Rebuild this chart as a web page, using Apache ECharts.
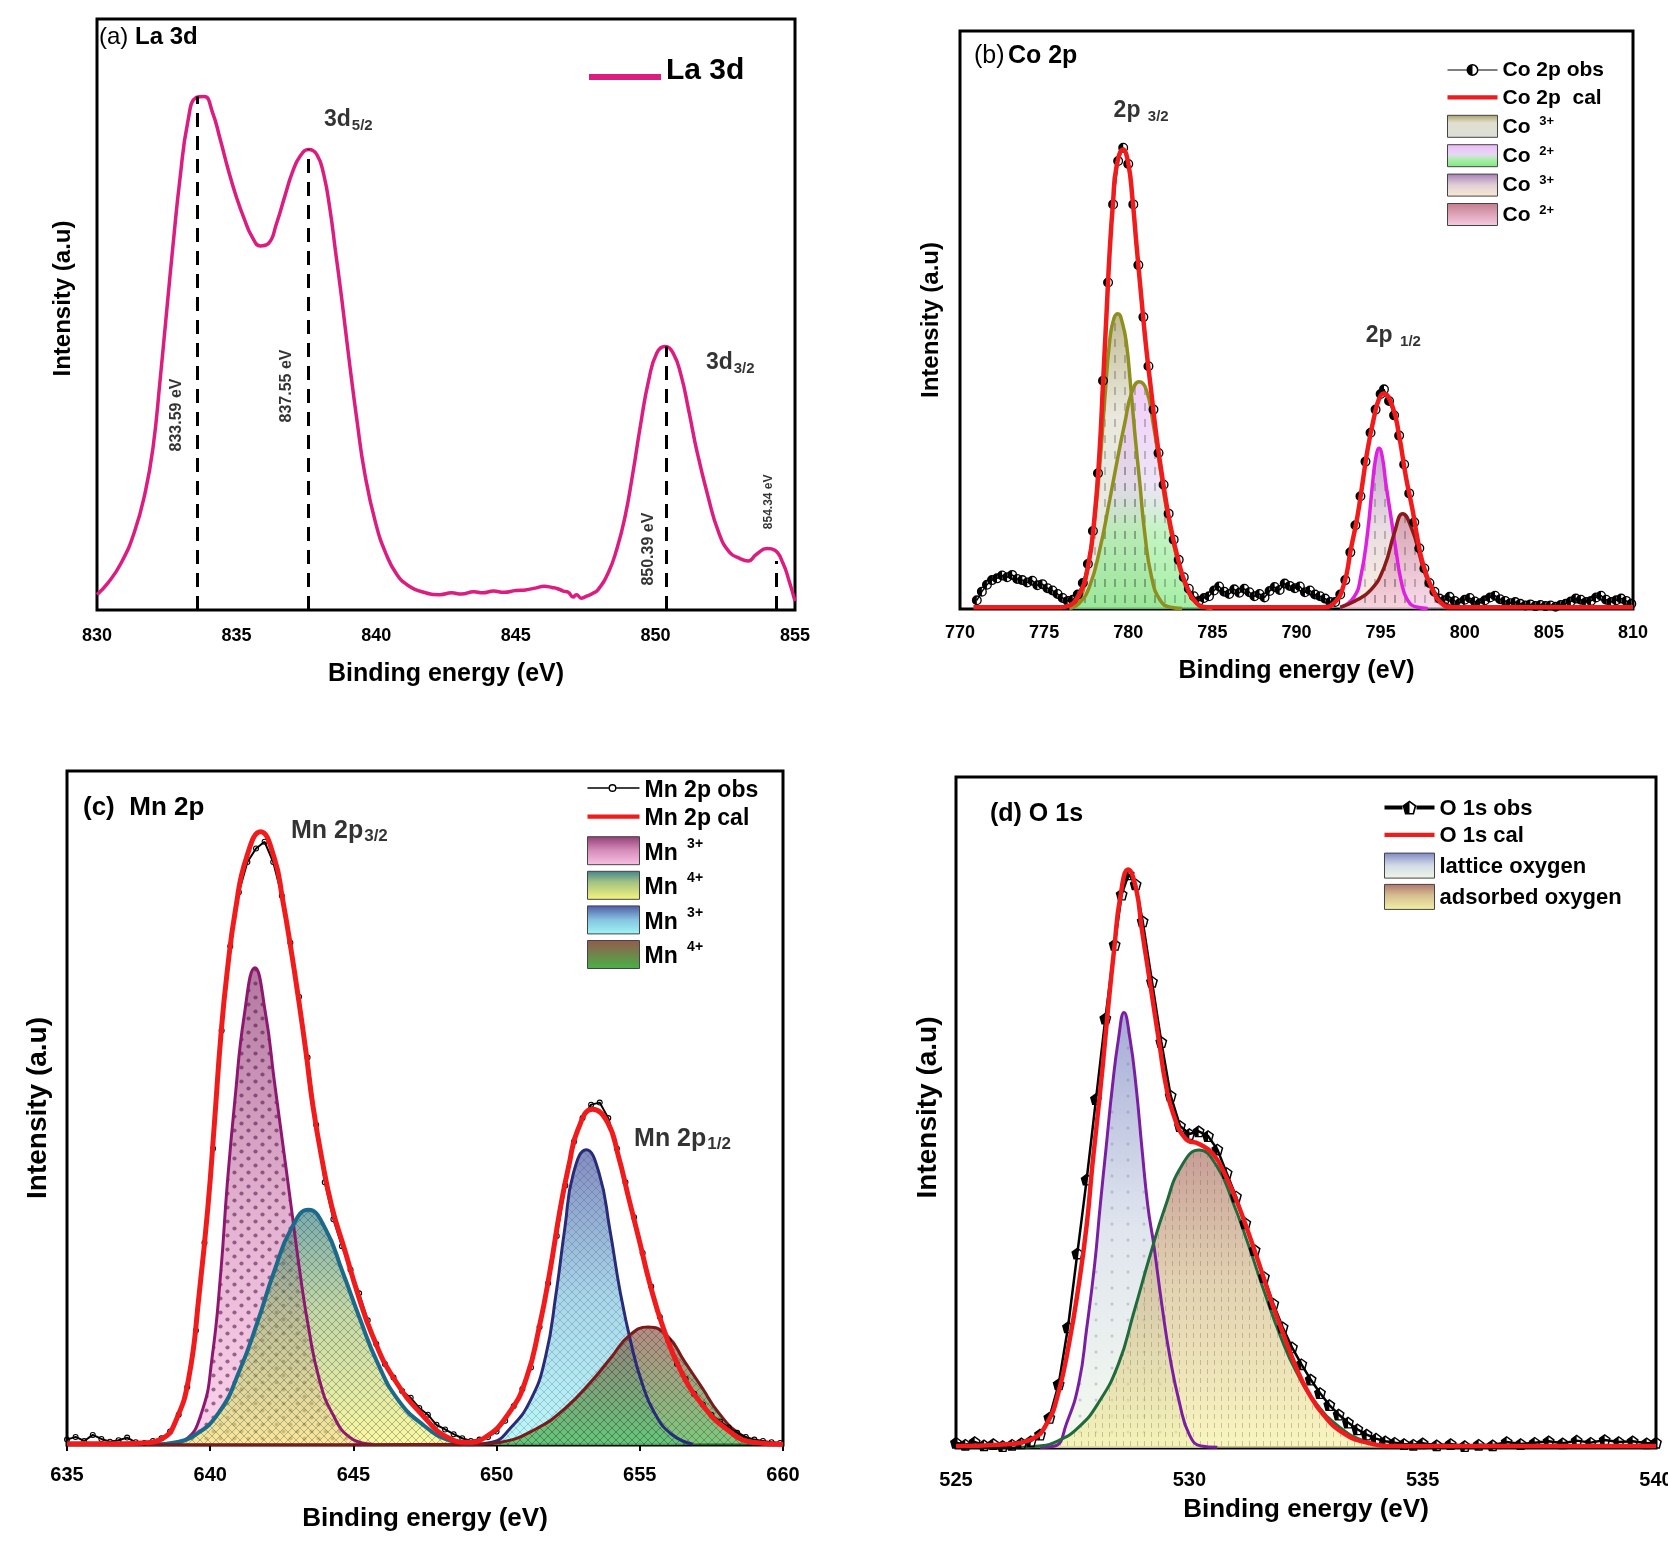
<!DOCTYPE html>
<html>
<head>
<meta charset="utf-8">
<title>XPS spectra - La 3d, Co 2p, Mn 2p, O 1s</title>
<script src="https://cdn.jsdelivr.net/npm/echarts@6.0.0/dist/echarts.min.js"></script>
<style>
  html, body { margin: 0; padding: 0; background: #fff; }
  #main { width: 1668px; height: 1550px; }
</style>
</head>
<body>
<div id="main"></div>
<script>
// ---------- values (intensity in arbitrary units, 0..100 of each frame) ----------

// (a) La 3d
var laSpectrum = [[830.0,2.6],[830.38,4.5],[830.86,7.9],[831.34,13.2],[831.73,20.0],[832.01,27.6],[832.26,38.9],[832.49,50.3],[832.72,61.6],[832.97,72.9],[833.26,82.8],[833.55,86.7],[833.84,86.9],[834.13,84.3],[834.41,79.7],[834.7,74.5],[834.99,69.9],[835.28,66.1],[835.56,63.1],[835.85,61.6],[836.14,62.0],[836.43,65.4],[836.72,69.9],[837.0,74.1],[837.29,76.9],[837.58,77.9],[837.87,77.1],[838.12,73.7],[838.35,67.6],[838.54,60.8],[838.77,52.5],[839.02,42.7],[839.31,32.1],[839.59,23.1],[839.98,14.7],[840.36,9.4],[840.74,6.0],[841.13,4.2],[841.7,3.0],[842.28,2.6],[842.7,2.9],[843.05,2.7],[843.5,3.1],[843.81,2.9],[844.2,3.2],[844.58,3.0],[845.0,3.3],[845.35,3.4],[845.7,3.7],[846.02,4.0],[846.3,3.8],[846.5,3.6],[846.7,3.2],[846.88,3.0],[847.05,2.2],[847.17,2.6],[847.35,2.0],[847.56,2.4],[847.75,2.8],[847.94,3.4],[848.32,6.4],[848.61,10.2],[848.9,15.5],[849.19,23.1],[849.47,31.4],[849.76,38.9],[850.05,43.5],[850.34,44.6],[850.63,43.5],[850.92,39.7],[851.2,33.6],[851.49,26.8],[851.88,19.3],[852.26,13.2],[852.65,9.8],[853.03,8.7],[853.32,8.3],[853.61,9.4],[854.0,10.4],[854.28,10.1],[854.57,7.9],[854.79,4.9],[855.0,1.5]];
var laPeaks = [[833.59,86.9],[837.55,77.9],[850.39,44.6],[854.34,8.3]];
var laPeakText = [[832.86,33.0,'{r|833.59 eV}'],[836.79,37.9,'{r|837.55 eV}'],[849.77,10.3,'{r|850.39 eV}'],[854.05,18.3,'{q|854.34 eV}']];
var laNotes = [[838.13,82.8,'{m|3d}{s|5/2}'],[851.81,41.6,'{m|3d}{s|3/2}']];

// (b) Co 2p
var coObs = [[771.0,1.5],[771.3,3.0],[771.6,4.2],[771.9,5.0],[772.2,5.3],[772.5,5.8],[772.8,5.5],[773.1,5.9],[773.4,5.2],[773.7,5.0],[774.0,4.6],[774.3,4.9],[774.6,4.1],[774.9,4.3],[775.2,3.6],[775.5,3.2],[775.8,2.6],[776.1,1.9],[776.4,1.4],[776.7,1.6],[777.0,2.5],[777.3,4.5],[777.6,7.8],[777.9,13.5],[778.2,23.5],[778.5,39.5],[778.8,56.5],[779.1,70.0],[779.4,77.5],[779.7,79.8],[780.0,77.0],[780.3,70.0],[780.6,59.5],[780.9,50.5],[781.2,42.0],[781.5,34.5],[781.8,27.0],[782.1,21.5],[782.4,16.5],[782.7,12.0],[783.0,8.5],[783.3,5.5],[783.6,3.5],[783.9,2.2],[784.2,1.4],[784.5,1.9],[784.8,2.2],[785.1,3.2],[785.4,3.9],[785.7,3.0],[786.0,2.6],[786.3,3.4],[786.6,2.8],[786.9,3.5],[787.2,2.9],[787.5,2.2],[787.8,2.6],[788.1,2.0],[788.4,3.1],[788.7,3.8],[789.0,3.3],[789.3,4.4],[789.6,4.0],[789.9,3.6],[790.2,3.9],[790.5,2.9],[790.8,3.2],[791.1,2.5],[791.4,2.2],[791.7,1.8],[792.0,1.2],[792.3,1.2],[792.6,2.5],[792.9,5.0],[793.2,9.8],[793.5,14.5],[793.8,19.5],[794.1,25.5],[794.4,30.5],[794.7,34.5],[795.0,37.2],[795.2,38.0],[795.5,36.0],[795.8,33.5],[796.1,30.0],[796.4,25.0],[796.7,20.0],[797.0,15.0],[797.3,10.5],[797.6,7.0],[797.9,4.5],[798.2,3.0],[798.5,1.8],[798.8,1.5],[799.1,2.1],[799.4,1.4],[799.7,1.0],[800.0,1.6],[800.3,1.9],[800.6,1.3],[800.9,1.0],[801.2,1.5],[801.5,2.0],[801.8,2.3],[802.1,1.7],[802.4,1.4],[802.7,1.0],[803.0,1.2],[803.3,0.9],[803.6,0.6],[803.9,0.8],[804.2,0.5],[804.5,0.7],[804.8,0.5],[805.1,0.6],[805.4,0.4],[805.7,0.7],[806.0,0.9],[806.3,1.3],[806.6,1.8],[806.9,1.6],[807.2,1.2],[807.5,1.4],[807.8,2.0],[808.1,2.3],[808.4,1.6],[808.7,1.2],[809.0,1.5],[809.3,1.8],[809.6,1.4],[809.9,0.9]];
var coCal = [[770.8,0.3],[776.0,0.3],[776.3,0.4],[777.0,2.1],[777.6,7.3],[778.0,16.0],[778.3,27.5],[778.5,39.0],[778.7,50.6],[778.9,62.1],[779.1,70.5],[779.3,76.5],[779.69,79.5],[780.0,77.1],[780.25,71.0],[780.49,63.0],[780.79,53.5],[781.08,44.8],[781.38,37.3],[781.68,29.8],[782.08,21.7],[782.48,14.8],[782.97,8.5],[783.47,3.9],[784.07,1.0],[784.67,0.3],[791.5,0.3],[792.23,1.0],[792.83,4.4],[793.22,10.2],[793.62,16.0],[793.92,21.7],[794.22,27.5],[794.62,33.3],[794.9,36.3],[795.17,37.3],[795.71,35.0],[796.11,29.8],[796.5,22.9],[796.9,17.1],[797.2,12.0],[797.5,8.0],[798.0,3.9],[798.6,1.0],[799.3,0.3],[810.0,0.3]];
var co3a = [[776.5,0.1],[777.0,1.0],[777.5,5.6],[777.9,13.1],[778.3,24.6],[778.6,36.1],[778.9,46.5],[779.15,50.3],[779.39,51.1],[779.65,49.5],[779.89,46.0],[780.13,39.0],[780.39,30.4],[780.69,21.7],[780.98,13.1],[781.38,5.6],[781.88,1.6],[782.5,0.3],[783.2,0.1]];
var co2a = [[776.6,0.2],[777.1,1.0],[777.7,3.9],[778.3,10.2],[778.9,18.9],[779.39,26.4],[779.79,32.1],[780.19,37.3],[780.65,39.3],[781.08,37.9],[781.48,32.1],[781.88,24.6],[782.28,17.1],[782.78,10.2],[783.27,5.0],[783.87,1.6],[784.47,0.4],[785.0,0.1]];
var co3b = [[792.6,0.2],[793.42,2.1],[793.82,5.6],[794.22,13.1],[794.52,21.7],[794.72,26.3],[794.91,27.8],[795.1,26.3],[795.31,21.7],[795.61,16.0],[795.91,10.2],[796.21,5.0],[796.61,1.5],[797.2,0.3],[797.8,0.1]];
var co2b = [[792.6,0.3],[793.42,1.3],[794.42,3.3],[795.22,7.3],[795.81,13.1],[796.31,16.5],[796.9,13.5],[797.3,9.5],[797.6,6.5],[798.0,3.9],[798.8,1.0],[799.6,0.3]];
var coNotes = [[779.13,86.0,'{m|2p }{s|3/2}'],[794.12,47.1,'{m|2p }{s|1/2}']];

// (c) Mn 2p
var mnObs = [[635.0,0.8],[635.3,1.2],[635.6,0.6],[635.9,1.5],[636.2,0.9],[636.5,0.5],[636.8,0.7],[637.1,1.1],[637.4,0.4],[637.7,0.3],[638.0,0.6],[638.3,1.0],[638.6,2.0],[638.9,4.5],[639.2,8.6],[639.5,17.0],[639.8,30.0],[640.1,44.0],[640.4,61.5],[640.7,74.0],[641.0,82.0],[641.3,86.5],[641.6,88.5],[641.9,89.5],[642.2,86.5],[642.5,81.5],[642.8,74.5],[643.1,66.5],[643.4,57.5],[643.7,47.5],[644.0,39.0],[644.3,33.5],[644.6,29.5],[644.9,26.0],[645.2,22.5],[645.5,18.5],[645.8,15.0],[646.1,12.0],[646.4,10.0],[646.7,8.0],[647.0,7.0],[647.3,5.5],[647.6,4.5],[647.9,3.0],[648.2,2.3],[648.5,1.6],[648.8,1.0],[649.1,0.6],[649.4,0.8],[649.7,1.2],[650.0,2.0],[650.3,3.6],[650.6,5.8],[650.9,8.3],[651.2,11.5],[651.5,17.5],[651.8,24.0],[652.1,31.0],[652.4,38.5],[652.7,45.0],[653.0,48.5],[653.3,50.5],[653.6,50.8],[653.9,48.5],[654.2,44.0],[654.5,39.0],[654.8,33.8],[655.1,28.5],[655.4,23.5],[655.7,19.0],[656.0,15.5],[656.3,12.0],[656.6,9.8],[656.9,7.6],[657.2,6.0],[657.5,4.5],[657.8,3.5],[658.1,2.6],[658.4,1.8],[658.7,1.2],[659.0,0.8],[659.3,0.6],[659.6,0.4],[659.9,0.3]];
var mnCal = [[635.0,0.2],[637.0,0.2],[637.61,0.3],[638.35,1.0],[638.8,3.6],[639.25,9.9],[639.62,22.6],[639.92,35.3],[640.15,47.9],[640.37,60.6],[640.59,70.1],[640.89,79.6],[641.27,87.2],[641.76,91.0],[642.23,87.2],[642.53,80.9],[642.83,73.3],[643.1,65.7],[643.35,58.1],[643.58,50.5],[643.88,42.9],[644.25,35.3],[644.7,28.9],[645.14,22.6],[645.67,16.2],[646.41,9.9],[647.46,4.2],[648.35,1.0],[649.0,0.4],[649.55,1.0],[650.44,4.8],[651.04,9.9],[651.49,17.5],[651.86,25.7],[652.23,35.3],[652.53,41.6],[652.83,46.7],[653.35,49.8],[653.87,47.9],[654.25,42.9],[654.62,36.5],[654.99,30.2],[655.36,23.8],[655.81,17.5],[656.41,11.2],[657.16,6.1],[658.05,2.3],[658.95,0.4],[660.0,0.1]];
var mn3a = [[638.5,0.1],[639.1,0.7],[639.7,4.8],[640.07,13.1],[640.37,25.7],[640.59,38.4],[640.86,51.1],[641.19,63.8],[641.56,70.8],[641.94,63.8],[642.23,54.3],[642.53,44.8],[642.83,35.3],[643.13,25.7],[643.43,17.5],[643.8,9.9],[644.25,4.8],[644.92,1.0],[645.67,0.1]];
var mn4a = [[638.2,0.1],[638.65,0.3],[639.4,1.3],[640.3,4.8],[641.04,11.2],[641.64,18.1],[642.23,25.7],[642.83,32.1],[643.43,34.9],[644.02,32.1],[644.62,25.7],[645.22,18.8],[645.82,12.4],[646.56,6.7],[647.46,2.9],[648.35,0.7],[649.2,0.1]];
var mn3b = [[649.2,0.1],[649.84,0.4],[650.44,2.3],[651.19,6.7],[651.71,13.1],[652.08,22.6],[652.38,32.1],[652.68,40.3],[653.13,43.8],[653.58,40.3],[653.95,32.1],[654.32,22.6],[654.7,15.0],[655.07,9.3],[655.51,4.8],[656.11,1.6],[656.86,0.1]];
var mn4b = [[636.5,0.05],[645.0,0.05],[649.4,0.1],[650.14,0.4],[651.34,2.3],[652.38,5.4],[653.28,9.3],[654.02,13.1],[654.62,16.2],[655.29,17.5],[655.96,16.2],[656.56,12.4],[657.16,8.6],[657.75,4.8],[658.5,1.6],[659.24,0.3],[660.0,0.1]];
var mnNotes = [[642.82,91.0,'{m|Mn 2p}{s|3/2}'],[654.8,45.3,'{m|Mn 2p}{s|1/2}']];

// (d) O 1s
var oObs = [[525.0,0.8],[525.2,0.5],[525.4,0.9],[525.6,0.4],[525.8,0.6],[526.0,0.3],[526.2,0.5],[526.4,0.7],[526.6,1.0],[526.8,2.0],[527.0,4.5],[527.2,9.5],[527.4,18.0],[527.6,29.0],[527.8,40.0],[528.0,52.0],[528.2,64.0],[528.4,75.0],[528.55,82.5],[528.7,85.5],[528.85,84.0],[529.0,78.5],[529.2,69.5],[529.4,60.5],[529.6,52.5],[529.8,48.0],[530.0,46.8],[530.2,47.2],[530.4,46.5],[530.6,44.5],[530.8,41.0],[531.0,37.5],[531.2,33.5],[531.4,29.5],[531.6,25.5],[531.8,21.5],[532.0,18.0],[532.2,15.0],[532.4,12.5],[532.6,10.2],[532.8,8.2],[533.0,6.4],[533.2,5.0],[533.4,3.8],[533.6,2.8],[533.8,2.0],[534.0,1.4],[534.2,1.0],[534.4,0.8],[534.6,0.6],[534.8,0.5],[535.0,0.7],[535.3,0.4],[535.6,0.6],[535.9,0.3],[536.2,0.5],[536.5,0.4],[536.8,0.9],[537.1,0.6],[537.4,0.8],[537.7,1.0],[538.0,0.7],[538.3,1.1],[538.6,0.8],[538.9,1.2],[539.2,0.9],[539.5,1.0],[539.8,0.7],[540.0,0.8]];
var oCal = [[525.0,0.3],[525.93,0.5],[526.61,1.3],[526.95,3.7],[527.2,8.4],[527.42,15.5],[527.63,24.3],[527.8,33.2],[527.92,42.0],[528.01,47.9],[528.14,56.7],[528.26,65.6],[528.39,74.4],[528.52,82.1],[528.69,86.2],[528.86,83.3],[528.98,77.4],[529.11,71.5],[529.24,65.6],[529.37,59.7],[529.49,54.4],[529.66,49.7],[529.92,46.1],[530.21,45.3],[530.51,43.8],[530.76,40.8],[531.02,36.7],[531.27,32.0],[531.53,26.7],[531.78,21.4],[532.03,16.7],[532.29,12.0],[532.54,8.4],[532.88,4.9],[533.31,2.2],[533.81,0.8],[534.41,0.3],[540.0,0.3]];
var oLattice = [[526.8,0.1],[527.12,0.3],[527.37,3.7],[527.63,9.6],[527.8,17.8],[527.97,27.3],[528.09,36.1],[528.22,45.0],[528.35,53.8],[528.48,60.9],[528.6,64.9],[528.73,60.9],[528.86,53.8],[528.98,45.0],[529.11,36.1],[529.24,30.2],[529.41,21.4],[529.58,13.7],[529.79,6.7],[530.0,2.0],[530.25,0.3],[530.6,0.1]];
var oAdsorbed = [[526.3,0.1],[526.78,0.3],[527.2,1.1],[527.63,3.1],[528.05,6.7],[528.48,12.5],[528.81,20.2],[529.15,28.5],[529.49,36.1],[529.83,42.0],[530.21,44.4],[530.59,42.0],[530.93,36.7],[531.27,30.2],[531.61,23.2],[531.95,16.7],[532.29,11.4],[532.71,6.7],[533.22,3.1],[533.73,1.1],[534.24,0.3],[534.8,0.1]];

// ---------- styling helpers ----------
var FONT = '"Liberation Sans", Arial, sans-serif';
var RED = '#F21B1B';
var SMOOTH = 0.5;

function grad(stops) {
  return new echarts.graphic.LinearGradient(0, 0, 0, 1, stops.map(function (s) { return { offset: s[0], color: s[1] }; }));
}
function makePattern(w, h, draw) {
  var c = document.createElement('canvas');
  c.width = w; c.height = h;
  draw(c.getContext('2d'));
  return c;
}
var vdashB = makePattern(10, 16, function (g) { g.strokeStyle = 'rgba(30,30,30,0.55)'; g.lineWidth = 1.3; g.beginPath(); g.moveTo(5, 3); g.lineTo(5, 11); g.stroke(); });
var vdashD = makePattern(7, 9, function (g) { g.strokeStyle = 'rgba(110,90,60,0.45)'; g.lineWidth = 1; g.beginPath(); g.moveTo(3.5, 1); g.lineTo(3.5, 6); g.stroke(); });
var dotsD = makePattern(16, 16, function (g) { g.fillStyle = 'rgba(110,110,140,0.45)'; g.beginPath(); g.arc(8, 8, 1.5, 0, 7); g.fill(); });
var dotsC = makePattern(14, 14, function (g) {
  g.fillStyle = 'rgba(80,20,70,0.8)';
  [[3.5, 3.5], [10.5, 10.5]].forEach(function (p) { g.beginPath(); g.arc(p[0], p[1], 2.1, 0, 7); g.fill(); });
});
function hatch(col) {
  return makePattern(8, 8, function (g) { g.strokeStyle = col; g.lineWidth = 1; g.beginPath(); g.moveTo(0, 0); g.lineTo(8, 8); g.moveTo(8, 0); g.lineTo(0, 8); g.stroke(); });
}

// fill colours of the fitted components
var fills = {
  co3a: [[0, 'rgba(150,140,70,0.85)'], [0.35, 'rgba(215,212,190,0.75)'], [1, 'rgba(205,210,200,0.7)']],
  co2a: [[0, 'rgba(235,170,245,0.85)'], [0.45, 'rgba(220,200,240,0.7)'], [0.65, 'rgba(150,235,150,0.8)'], [1, 'rgba(110,230,110,0.9)']],
  co3b: [[0, 'rgba(150,100,170,0.85)'], [0.5, 'rgba(215,190,200,0.75)'], [1, 'rgba(248,230,200,0.8)']],
  co2b: [[0, 'rgba(185,100,120,0.85)'], [1, 'rgba(245,190,220,0.8)']],
  mn3a: [[0, 'rgba(140,50,110,0.95)'], [0.5, 'rgba(210,130,180,0.9)'], [1, 'rgba(250,185,225,0.9)']],
  mn4a: [[0, 'rgba(40,120,130,0.9)'], [0.4, 'rgba(150,185,110,0.85)'], [1, 'rgba(248,245,110,0.9)']],
  mn3b: [[0, 'rgba(70,80,160,0.95)'], [0.5, 'rgba(120,190,220,0.9)'], [1, 'rgba(150,245,245,0.9)']],
  mn4b: [[0, 'rgba(140,70,60,0.9)'], [1, 'rgba(50,170,50,0.9)']],
  lat: [[0, 'rgba(110,120,190,0.9)'], [0.5, 'rgba(200,210,225,0.8)'], [1, 'rgba(235,245,225,0.8)']],
  ads: [[0, 'rgba(160,90,80,0.85)'], [0.45, 'rgba(200,170,110,0.75)'], [1, 'rgba(245,240,150,0.85)']]
};

function comp(name, gi, data, line, lw, stops) {
  return { name: name, type: 'line', xAxisIndex: gi, yAxisIndex: gi, data: data, smooth: SMOOTH,
    symbol: 'none', lineStyle: { color: line, width: lw }, itemStyle: { color: line }, areaStyle: { color: grad(stops) }, z: 2 };
}
function texture(gi, data, img) {
  return { type: 'line', xAxisIndex: gi, yAxisIndex: gi, data: data, smooth: SMOOTH, symbol: 'none',
    lineStyle: { width: 0, opacity: 0 }, areaStyle: { color: { image: img, repeat: 'repeat' } }, silent: true, z: 2 };
}
function obs(name, gi, data, sym, size, lw) {
  return { name: name, type: 'line', xAxisIndex: gi, yAxisIndex: gi, data: data, symbol: sym, symbolSize: size,
    showSymbol: true, itemStyle: { color: '#000' }, lineStyle: { color: '#000', width: lw }, z: 3 };
}
function cal(name, gi, data, lw) {
  return { name: name, type: 'line', xAxisIndex: gi, yAxisIndex: gi, data: data, smooth: SMOOTH,
    symbol: 'none', lineStyle: { color: RED, width: lw }, itemStyle: { color: RED }, z: 4 };
}
function notes(gi, items, rich, pos, rot) {
  return { type: 'scatter', xAxisIndex: gi, yAxisIndex: gi, symbolSize: 0, silent: true, z: 10,
    label: { show: true, position: pos, distance: 0, rotate: rot, color: '#000', fontFamily: FONT, rich: rich },
    data: items.map(function (it) { return { value: [it[0], it[1]], label: { formatter: it[2] } }; }) };
}
function subRich(m, s) {
  return {
    m: { fontSize: m, fontWeight: 'bold', fontFamily: FONT, color: '#000', lineHeight: m + 2, verticalAlign: 'top' },
    s: { fontSize: s, fontWeight: 'bold', fontFamily: FONT, color: '#000', lineHeight: s + 1, verticalAlign: 'bottom', padding: [Math.round(m * 0.55), 0, 0, 1] }
  };
}
function xAx(gi, min, max, fs, margin, nfs, gap, tick) {
  return { type: 'value', gridIndex: gi, min: min, max: max, interval: 5, name: 'Binding energy (eV)', nameLocation: 'middle', nameGap: gap,
    nameTextStyle: { fontSize: nfs, fontWeight: 'bold', fontFamily: FONT, color: '#000' },
    axisLine: { show: false }, axisTick: { show: !!tick, length: 6, lineStyle: { color: '#000', width: 2 } },
    axisLabel: { fontSize: fs, fontWeight: 'bold', fontFamily: FONT, color: '#000', margin: margin }, splitLine: { show: false } };
}
function yAx(gi, nfs, gap, shift) {
  return { type: 'value', gridIndex: gi, min: 0, max: 100, name: 'Intensity (a.u)', nameLocation: 'middle', nameGap: gap,
    nameTextStyle: { fontSize: nfs, fontWeight: 'bold', fontFamily: FONT, color: '#000', padding: [0, 0, 0, shift || 0] },
    axisLine: { show: false }, axisTick: { show: false }, axisLabel: { show: false }, splitLine: { show: false } };
}
function frame(l, t, w, h) {
  return { left: l, top: t, width: w, height: h, show: true, borderColor: '#000', borderWidth: 3, backgroundColor: 'transparent', outerBoundsMode: 'none' };
}

// legend icons
var BAR = 'path://M0,0H60V5H0Z';
var HALF_CIRCLE = 'path://M6,0A6,6 0 1,1 6,12A6,6 0 1,1 6,0Z M6,1.6A4.4,4.4 0 1,0 6,10.4A4.4,4.4 0 1,0 6,1.6Z M6,1.6A4.4,4.4 0 0,0 6,10.4Z';
var HALF_PENTA = 'path://M7,0L14,5L11.5,14H2.5L0,5Z M7,2L2,5.7L3.8,12.5H10.2L12,5.7Z M7,2L2,5.7L3.8,12.5H7Z';
var RING = 'path://M4,0A4,4 0 1,1 4,8A4,4 0 1,1 4,0Z M4,1.4A2.6,2.6 0 1,0 4,6.6A2.6,2.6 0 1,0 4,1.4Z';
var OBS_B = 'path://M0,9.4H19V10.6H0Z M31,9.4H50V10.6H31Z M25,4A6,6 0 1,1 25,16A6,6 0 1,1 25,4Z M25,5.6A4.4,4.4 0 1,0 25,14.4A4.4,4.4 0 1,0 25,5.6Z M25,5.6A4.4,4.4 0 0,0 25,14.4Z';
var OBS_C = 'path://M0,9.2H21V10.8H0Z M29,9.2H52V10.8H29Z M25,6A4,4 0 1,1 25,14A4,4 0 1,1 25,6Z M25,7.4A2.6,2.6 0 1,0 25,12.6A2.6,2.6 0 1,0 25,7.4Z';
var OBS_D = 'path://M0,8H18V12H0Z M32,8H50V12H32Z M25,3L32,8L29.5,17H20.5L18,8Z M25,5L20,8.7L21.8,15.5H28.2L30,8.7Z M25,5L20,8.7L21.8,15.5H25Z';

var legendText = {
  'La 3d': '{t|La 3d}',
  'Co 2p obs': '{t|Co 2p obs}', 'Co 2p  cal': '{t|Co 2p  cal}',
  'Co3+ 2p3/2': '{t|Co }{u|3+}', 'Co2+ 2p3/2': '{t|Co }{u|2+}', 'Co3+ 2p1/2': '{t|Co }{u|3+}', 'Co2+ 2p1/2': '{t|Co }{u|2+}',
  'Mn 2p obs': '{t|Mn 2p obs}', 'Mn 2p cal': '{t|Mn 2p cal}',
  'Mn3+ 2p3/2': '{t|Mn }{u|3+}', 'Mn4+ 2p3/2': '{t|Mn }{u|4+}', 'Mn3+ 2p1/2': '{t|Mn }{u|3+}', 'Mn4+ 2p1/2': '{t|Mn }{u|4+}',
  'O 1s obs': '{t|O 1s obs}', 'O 1s cal': '{t|O 1s cal}', 'lattice oxygen': '{t|lattice oxygen}', 'adsorbed oxygen': '{t|adsorbed oxygen}'
};
function legendRich(fs, lh) {
  return {
    t: { fontSize: fs, fontWeight: 'bold', fontFamily: FONT, color: '#000', lineHeight: lh, verticalAlign: 'bottom' },
    u: { fontSize: Math.round(fs * 0.62), fontWeight: 'bold', fontFamily: FONT, color: '#000', lineHeight: 13, verticalAlign: 'top', padding: [0, 0, 9, 3] }
  };
}
function swatch(name, stops) {
  return { name: name, icon: 'rect', itemStyle: { color: grad(stops), borderColor: '#444', borderWidth: 1 } };
}
function lineItem(name, icon, color) {
  return { name: name, icon: icon, itemStyle: { color: color, borderWidth: 0 } };
}
function legendBox(left, top, w, h, gap, fs, data) {
  return { left: left, top: top, orient: 'vertical', padding: 0, itemWidth: w, itemHeight: h, itemGap: gap, selectedMode: false,
    formatter: function (n) { return legendText[n]; },
    textStyle: { fontSize: fs, fontWeight: 'bold', fontFamily: FONT, color: '#000', rich: legendRich(fs, h) }, data: data };
}

var chart = echarts.init(document.getElementById('main'), null, { renderer: 'canvas' });

var option = {
  animation: false,
  backgroundColor: '#fff',
  grid: [frame(97, 19, 698, 591), frame(960, 31, 673, 578), frame(67, 771, 716, 674), frame(956, 777, 700, 671)],
  xAxis: [xAx(0, 830, 855, 18, 17, 25, 52), xAx(1, 770, 810, 18, 15, 25, 50), xAx(2, 635, 660, 20, 20, 26, 61, true), xAx(3, 525, 540, 20, 22, 26, 49)],
  yAxis: [yAx(0, 24, 22, 32), yAx(1, 24, 17), yAx(2, 28, 15), yAx(3, 28, 14, 10)],
  legend: [
    legendBox(589, 56, 72, 18, 0, 30, [lineItem('La 3d', BAR, '#DC1C7E')]),
    legendBox(1447, 60, 50, 22, 6.4, 21, [
      lineItem('Co 2p obs', OBS_B, '#000'), lineItem('Co 2p  cal', BAR, RED),
      swatch('Co3+ 2p3/2', fills.co3a), swatch('Co2+ 2p3/2', fills.co2a), swatch('Co3+ 2p1/2', fills.co3b), swatch('Co2+ 2p1/2', fills.co2b)]),
    legendBox(587, 779, 52, 28, 5.6, 23, [
      lineItem('Mn 2p obs', OBS_C, '#000'), lineItem('Mn 2p cal', BAR, RED),
      swatch('Mn3+ 2p3/2', fills.mn3a), swatch('Mn4+ 2p3/2', fills.mn4a), swatch('Mn3+ 2p1/2', fills.mn3b), swatch('Mn4+ 2p1/2', fills.mn4b)]),
    legendBox(1384, 798, 50, 25, 5.3, 22, [
      lineItem('O 1s obs', OBS_D, '#000'), lineItem('O 1s cal', BAR, RED),
      swatch('lattice oxygen', fills.lat), swatch('adsorbed oxygen', fills.ads)])
  ],
  graphic: [
    { type: 'text', left: 99, top: 25, style: { text: '{r|(a)}  {b|La 3d}', rich: {
      r: { fontSize: 24, fontFamily: FONT, fill: '#000' }, b: { fontSize: 24, fontWeight: 'bold', fontFamily: FONT, fill: '#000' } } } },
    { type: 'text', left: 974, top: 44, style: { text: '{r|(b)} {b|Co 2p}', rich: {
      r: { fontSize: 25, fontFamily: FONT, fill: '#000' }, b: { fontSize: 25, fontWeight: 'bold', fontFamily: FONT, fill: '#000' } } } },
    { type: 'text', left: 83, top: 795, style: { text: '(c)  Mn 2p', fontSize: 26, fontWeight: 'bold', fontFamily: FONT, fill: '#000' } },
    { type: 'text', left: 990, top: 802, style: { text: '(d) O 1s', fontSize: 25, fontWeight: 'bold', fontFamily: FONT, fill: '#000' } }
  ],
  series: [
    // (a)
    { name: 'La 3d', type: 'line', xAxisIndex: 0, yAxisIndex: 0, data: laSpectrum, smooth: SMOOTH, symbol: 'none',
      lineStyle: { color: '#DC1C7E', width: 3.5 }, itemStyle: { color: '#DC1C7E' }, z: 3,
      markLine: { silent: true, symbol: 'none', label: { show: false }, lineStyle: { color: '#000', width: 3, type: [14, 9] },
        data: laPeaks.map(function (p) { return [{ coord: [p[0], 0] }, { coord: [p[0], p[1]] }]; }) } },
    notes(0, laPeakText, { r: { fontSize: 16, fontWeight: 'bold', fontFamily: FONT, color: '#000' }, q: { fontSize: 12, fontWeight: 'bold', fontFamily: FONT, color: '#000' } }, 'inside', 90),
    notes(0, laNotes, subRich(23, 15), 'right', 0),

    // (b)
    comp('Co3+ 2p3/2', 1, co3a, '#8F8F1F', 3.5, fills.co3a), texture(1, co3a, vdashB),
    comp('Co2+ 2p3/2', 1, co2a, '#8F8F1F', 3.5, fills.co2a), texture(1, co2a, vdashB),
    comp('Co3+ 2p1/2', 1, co3b, '#E020E0', 3.5, fills.co3b), texture(1, co3b, vdashB),
    comp('Co2+ 2p1/2', 1, co2b, '#8B1A1A', 3.5, fills.co2b), texture(1, co2b, vdashB),
    obs('Co 2p obs', 1, coObs, HALF_CIRCLE, 10, 1.5),
    cal('Co 2p  cal', 1, coCal, 4.5),
    notes(1, coNotes, subRich(23, 15), 'right', 0),

    // (c)
    comp('Mn3+ 2p3/2', 2, mn3a, '#8E1870', 3, fills.mn3a), texture(2, mn3a, dotsC),
    comp('Mn4+ 2p3/2', 2, mn4a, '#1C6A8A', 4, fills.mn4a), texture(2, mn4a, hatch('rgba(30,50,30,0.45)')),
    comp('Mn3+ 2p1/2', 2, mn3b, '#2A2A7A', 3, fills.mn3b), texture(2, mn3b, hatch('rgba(40,80,110,0.35)')),
    comp('Mn4+ 2p1/2', 2, mn4b, '#7A1A1A', 3, fills.mn4b), texture(2, mn4b, hatch('rgba(30,40,20,0.45)')),
    obs('Mn 2p obs', 2, mnObs, RING, 6, 2),
    cal('Mn 2p cal', 2, mnCal, 5),
    notes(2, mnNotes, subRich(25, 17), 'right', 0),

    // (d)
    comp('lattice oxygen', 3, oLattice, '#7B1FA2', 3, fills.lat), texture(3, oLattice, dotsD),
    comp('adsorbed oxygen', 3, oAdsorbed, '#1F6B3C', 3, fills.ads), texture(3, oAdsorbed, vdashD),
    obs('O 1s obs', 3, oObs, HALF_PENTA, 12, 2.5),
    cal('O 1s cal', 3, oCal, 4.5)
  ]
};

chart.setOption(option);
window.onresize = function () { chart.resize(); };
</script>
</body>
</html>
